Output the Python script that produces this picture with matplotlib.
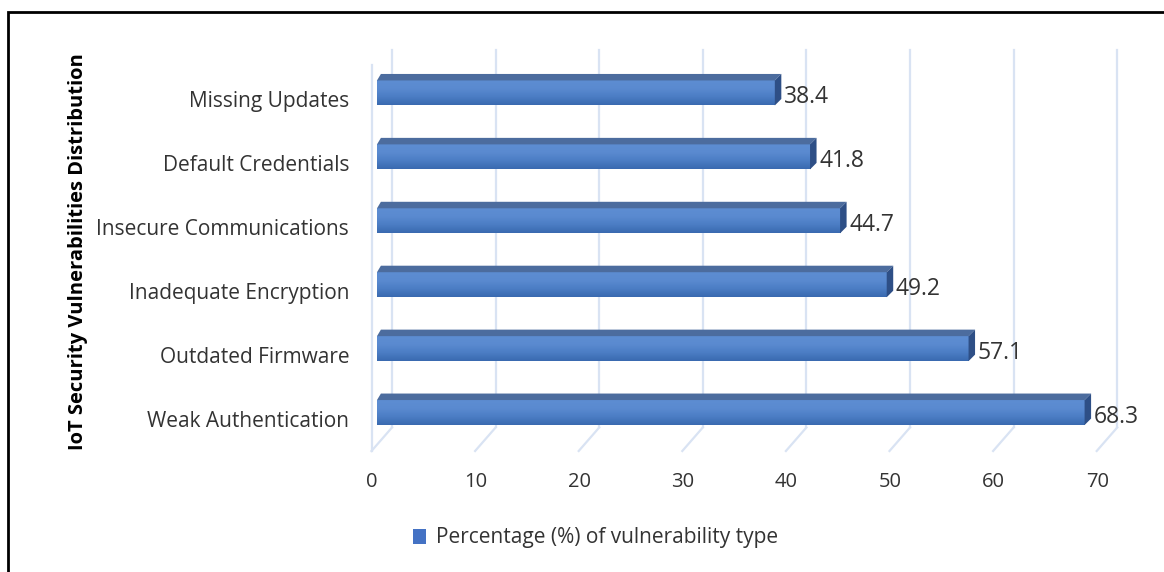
import numpy as np
import matplotlib
matplotlib.use('Agg')
import matplotlib.pyplot as plt
import matplotlib.colors as mcolors
from matplotlib.patches import Polygon, Rectangle, Patch
from matplotlib.transforms import ScaledTranslation

# Data
categories = ['Weak Authentication', 'Outdated Firmware', 'Inadequate Encryption',
              'Insecure Communications', 'Default Credentials', 'Missing Updates']
values = [68.3, 57.1, 49.2, 44.7, 41.8, 38.4]
x_ticks = [0, 10, 20, 30, 40, 50, 60, 70]
series_name = 'Percentage (%) of vulnerability type'
y_title = 'IoT Security Vulnerabilities Distribution'

# Style
FONT = 'Open Sans'
TEXT = '#333333'
GRID = '#d9e3f3'
TOP_FACE = '#4c6c9e'
SIDE_FACE = '#2e4f86'
LEGEND_BLUE = '#4472c4'
plt.rcParams['font.family'] = [FONT, 'DejaVu Sans']

W, H = 1164, 572
fig = plt.figure(figsize=(W / 100, H / 100), dpi=100)
fig.patch.set_facecolor('white')

# axes = the plane of the bars' front faces (pixel layout)
ax_l, ax_r, ax_t, ax_b = 377, 1102.2, 61, 444.5
ax = fig.add_axes([ax_l / W, 1 - ax_b / H, (ax_r - ax_l) / W, (ax_b - ax_t) / H])
ax.set_xlim(0, 70)
ax.set_ylim(-0.5, 5.5)
px_x = (ax_r - ax_l) / 70.0      # pixels per x unit
px_y = (ax_b - ax_t) / 6.0       # pixels per category

# depth offsets (pixels -> data units)
front_dx, front_dy = -5.5 / px_x, -6.5 / px_y
back_dx, back_dy = 15 / px_x, 17 / px_y
bar_dx, bar_dy = 6.5 / px_x, 6.5 / px_y
bar_h = 25 / px_y

floor = -0.5
# back wall gridlines and floor diagonals
for v in x_ticks:
    ax.plot([v + back_dx, v + back_dx], [floor + back_dy, 5.5 + back_dy - 0.1],
            color=GRID, lw=1.6, zorder=0.5, clip_on=False)
    ax.plot([v + front_dx, v + back_dx], [floor + front_dy, floor + back_dy],
            color=GRID, lw=1.6, zorder=0.5, clip_on=False)
# left wall front edge
ax.plot([front_dx, front_dx], [floor + front_dy, 5.5 - 0.06],
        color=GRID, lw=1.6, zorder=0.5, clip_on=False)

# bars
grad_cmap = mcolors.LinearSegmentedColormap.from_list(
    'bar', ['#3a6ab0', '#4b7dc4', '#5a8ad0', '#5d8dd2'])
grad = np.linspace(0, 1, 64).reshape(-1, 1)
for i, v in enumerate(values):
    y0, y1 = i - bar_h / 2, i + bar_h / 2
    ax.imshow(grad, cmap=grad_cmap, extent=(0, v, y0, y1), origin='lower',
              aspect='auto', zorder=2, interpolation='bilinear')
    ax.add_patch(Polygon([(0, y1), (v, y1), (v + bar_dx, y1 + bar_dy), (bar_dx * 0.6, y1 + bar_dy)],
                         closed=True, facecolor=TOP_FACE, edgecolor='none', zorder=2))
    ax.add_patch(Polygon([(v, y0), (v, y1), (v + bar_dx, y1 + bar_dy), (v + bar_dx, y0 + bar_dy)],
                         closed=True, facecolor=SIDE_FACE, edgecolor='none', zorder=2))
    ax.text(v + bar_dx + 0.25, i - 0.07, f'{v}', ha='left', va='center',
            fontsize=16.5, color=TEXT, zorder=3)
ax.set_xlim(0, 70)
ax.set_ylim(-0.5, 5.5)

# ticks
ax.set_xticks(x_ticks)
ax.set_xticklabels([str(t) for t in x_ticks], fontsize=14.5, color=TEXT)
ax.set_yticks(range(len(categories)))
ax.set_yticklabels(categories, fontsize=15, color=TEXT)
ax.tick_params(axis='x', length=0, pad=19.5)
ax.tick_params(axis='y', length=0, pad=20)
for lab in ax.get_xticklabels():
    lab.set_transform(lab.get_transform() + ScaledTranslation(-5 / 100, 0, fig.dpi_scale_trans))
for lab in ax.get_yticklabels():
    lab.set_transform(lab.get_transform() + ScaledTranslation(0, -6 / 100, fig.dpi_scale_trans))

for s in ax.spines.values():
    s.set_visible(False)
ax.set_facecolor('none')

ax.set_ylabel(y_title, fontsize=14.5, fontweight='bold', color='black')
ax.yaxis.set_label_coords((88 - ax_l) / (ax_r - ax_l), (ax_b - 252) / (ax_b - ax_t))

# legend
fig.legend(handles=[Patch(facecolor=LEGEND_BLUE, edgecolor='none', label=series_name)],
           loc='center left', bbox_to_anchor=(413 / W, 1 - 538 / H), frameon=False,
           borderpad=0, borderaxespad=0,
           fontsize=15, handlelength=0.6, handleheight=0.7, handletextpad=0.5,
           labelcolor=TEXT)

# outer frame (cut off at right and bottom edges like the source)
fig.patches.append(Rectangle((8 / W, -0.1), 1.2, 1 - 12 / H + 0.1, transform=fig.transFigure,
                             fill=False, edgecolor='black', lw=2))

fig.savefig('out.png', dpi=100, facecolor='white')
